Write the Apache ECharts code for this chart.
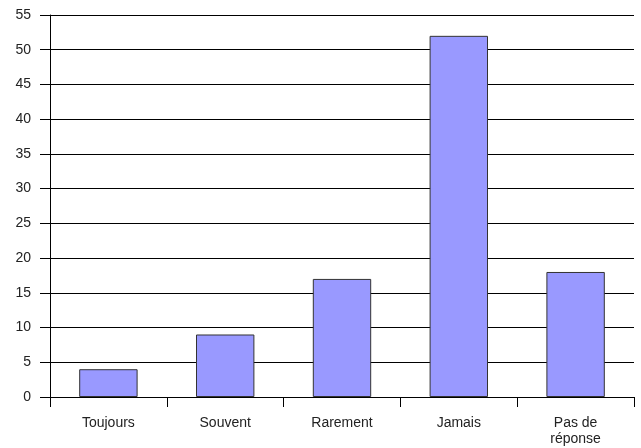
<!DOCTYPE html>
<html>
<head>
<meta charset="utf-8">
<script src="https://cdn.jsdelivr.net/npm/echarts@6/dist/echarts.min.js"></script>
<style>html,body{margin:0;padding:0;background:#fff}#c{width:641px;height:448px}</style>
</head>
<body>
<div id="c"></div>
<script>
const categories = ["Toujours", "Souvent", "Rarement", "Jamais", "Pas de\nréponse"];
const values = [4, 9, 17, 52, 18];

const chart = echarts.init(document.getElementById('c'), null, {renderer: 'canvas'});
chart.setOption({
  animation: false,
  backgroundColor: '#fff',
  grid: {left: 50, top: 15, right: 7, bottom: 51, containLabel: false},
  xAxis: {
    type: 'category',
    data: categories,
    boundaryGap: true,
    axisLine: {lineStyle: {color: '#000', width: 1}},
    axisTick: {show: true, length: 10, lineStyle: {color: '#000'}, interval: 0},
    axisLabel: {color: '#222', fontFamily: 'Liberation Sans', fontSize: 14, margin: 18, lineHeight: 16, interval: 0},
    splitLine: {show: false}
  },
  yAxis: {
    type: 'value',
    min: 0, max: 55, interval: 5,
    axisLine: {show: true, lineStyle: {color: '#000', width: 1}},
    axisTick: {show: true, length: 10, lineStyle: {color: '#000'}},
    axisLabel: {color: '#222', fontFamily: 'Liberation Sans', fontSize: 14, margin: 19},
    splitLine: {show: true, lineStyle: {color: '#000', width: 1}}
  },
  series: [{
    type: 'bar',
    data: values,
    barWidth: '50%',
    itemStyle: {color: '#9999FF', borderColor: '#333333', borderWidth: 1}
  }]
});
</script>
</body>
</html>
